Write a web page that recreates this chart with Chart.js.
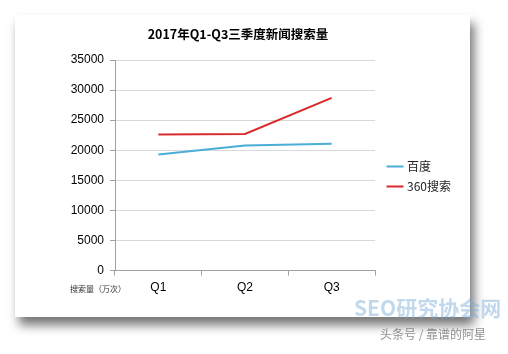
<!DOCTYPE html>
<html>
<head>
<meta charset="utf-8">
<script src="https://cdn.jsdelivr.net/npm/chart.js@4"></script>
<style>
  html, body { margin: 0; padding: 0; background: #fff; width: 508px; height: 354px; overflow: hidden; }
  #card {
    position: absolute; left: 15px; top: 15px; width: 455px; height: 302px;
    background: #fff;
    box-shadow: 4px 8px 10px rgba(0,0,0,0.55);
  }
  #note {
    position: absolute; left: 55px; top: 268px; font: 8px "Noto Sans CJK SC", sans-serif; color: #333;
  }
  #wm1 {
    position: absolute; left: 354px; top: 292px; font: bold 21px "Noto Sans CJK SC", sans-serif;
    color: rgba(120,170,215,0.45); letter-spacing: 0px;
  }
  #wm2 {
    position: absolute; left: 380px; top: 325px; font: 12px "Noto Sans CJK SC", sans-serif;
    color: rgba(110,110,110,0.75);
  }
</style>
</head>
<body>
<div id="card">
  <canvas id="chart" width="455" height="302"></canvas>
  <div id="note">搜索量（万次）</div>
</div>
<div id="wm1">SEO研究协会网</div>
<div id="wm2">头条号 / 靠谱的阿星</div>
<script>
var quarters = ["Q1", "Q2", "Q3"];
var baidu_data = [19300, 20800, 21100];
var so360_data = [22600, 22700, 28700];

const ctx = document.getElementById("chart");

// widen the legend box so there is a gap after the plot area,
// then nudge legend and title to where Excel put them
const nudge = {
  id: "nudge",
  beforeLayout: function (chart) {
    const legend = chart.legend;
    if (legend && !legend._gapPatched) {
      const origFit = legend.fit;
      legend.fit = function () {
        origFit.call(this);
        this.width += 14;
      };
      legend._gapPatched = true;
    }
  },
  afterLayout: function (chart) {
    const legend = chart.legend;
    legend.left += 6;
    legend.right += 6;
    legend.top += 19;
    legend.bottom += 19;
    const title = chart.titleBlock;
    if (title) {
      title.left -= 9;
      title.right -= 9;
    }
  },
};

const chart = new Chart(ctx, {
  type: "line",
  data: {
    labels: quarters,
    datasets: [
      {
        label: "百度",
        data: baidu_data,
        borderColor: "#4aaed6",
        backgroundColor: "#4aaed6",
        borderWidth: 2,
        pointRadius: 0,
        tension: 0,
      },
      {
        label: "360搜索",
        data: so360_data,
        borderColor: "#d82a2a",
        backgroundColor: "#d82a2a",
        borderWidth: 2,
        pointRadius: 0,
        tension: 0,
      },
    ],
  },
  plugins: [nudge],
  options: {
    responsive: false,
    animation: false,
    layout: {
      padding: { left: 10, right: 1, top: 0, bottom: 17 },
    },
    plugins: {
      title: {
        display: true,
        text: "2017年Q1-Q3三季度新闻搜索量",
        color: "#000",
        font: { family: "'Noto Sans CJK SC', sans-serif", size: 12.5, weight: "bold" },
        padding: { top: 12, bottom: 18 },
      },
      legend: {
        position: "right",
        labels: {
          usePointStyle: true,
          pointStyle: "line",
          boxWidth: 14,
          color: "#222",
          padding: 8,
          font: { family: "'Noto Sans CJK SC', sans-serif", size: 12 },
        },
      },
      tooltip: { enabled: false },
    },
    scales: {
      x: {
        offset: true,
        grid: {
          offset: true,
          drawOnChartArea: false,
          tickLength: 5,
          color: "#a0a0a0",
        },
        border: { color: "#a0a0a0" },
        ticks: {
          color: "#000",
          padding: 5,
          font: { family: "'Liberation Sans', sans-serif", size: 12 },
        },
      },
      y: {
        min: 0,
        max: 35000,
        ticks: {
          stepSize: 5000,
          color: "#000",
          padding: 6,
          font: { family: "'Liberation Sans', sans-serif", size: 12 },
          callback: function (v) {
            return String(v);
          },
        },
        grid: { color: "#d9d9d9", tickLength: 5, tickColor: "#a0a0a0" },
        border: { color: "#a0a0a0" },
        afterFit: function (scale) {
          scale.width = 90;
        },
      },
    },
  },
});
</script>
</body>
</html>
